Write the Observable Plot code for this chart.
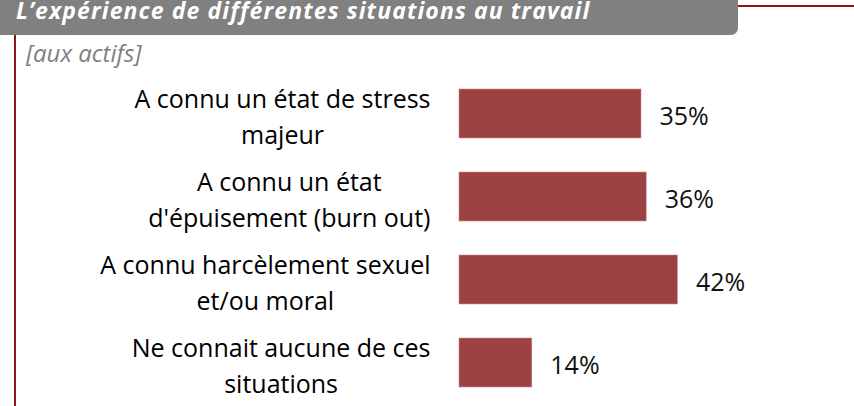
<!DOCTYPE html>
<html>
<head>
<meta charset="utf-8">
<script src="https://cdn.jsdelivr.net/npm/d3@7"></script>
<script src="https://cdn.jsdelivr.net/npm/@observablehq/plot@0.6"></script>
<style>
  html, body { margin: 0; padding: 0; background: #fff; }
  #wrap { position: relative; width: 854px; height: 406px; overflow: hidden; font-family: "Open Sans", sans-serif; }
  #titlebox { position: absolute; left: 0; top: -10px; width: 738px; height: 45px; background: #808080; border-bottom-right-radius: 7px; }
  #title { position: absolute; left: 16px; top: 1px; color: #fff; font: italic 700 23px "Open Sans", sans-serif; letter-spacing: 1.1px; white-space: nowrap; line-height: 18px; }
  #toprule { position: absolute; left: 738px; top: 5px; width: 116px; height: 2px; background: #9b0f0f; }
  #leftrule { position: absolute; left: 14px; top: 35px; width: 2px; height: 371px; background: #8b1414; }
  #subtitle { position: absolute; left: 26px; top: 38px; color: #7f7f7f; font: italic 400 24px "Open Sans", sans-serif; line-height: 30px; white-space: nowrap; }
  #chart { position: absolute; left: 0; top: 0; }
</style>
</head>
<body>
<div id="wrap">
  <div id="chart"></div>
  <div id="titlebox"></div>
  <div id="title">L’expérience de différentes situations au travail</div>
  <div id="toprule"></div>
  <div id="leftrule"></div>
  <div id="subtitle">[aux actifs]</div>
</div>
<script>
const categories = [
  "A connu un état de stress\nmajeur",
  "A connu un état\nd'épuisement (burn out)",
  "A connu harcèlement sexuel\net/ou moral",
  "Ne connait aucune de ces\nsituations"
];
const values = [35, 36, 42, 14];
const valueLabels = ["35%", "36%", "42%", "14%"];

const data = categories.map((c, i) => ({category: c, value: values[i], label: valueLabels[i]}));

const chart = Plot.plot({
  width: 854,
  height: 406,
  marginLeft: 459,
  marginRight: 135,
  marginTop: 71,
  marginBottom: 2,
  x: {domain: [0, 50], axis: null},
  y: {domain: categories, axis: null, paddingInner: 0.412, paddingOuter: 0.206},
  style: {fontFamily: "Open Sans, sans-serif", background: "transparent", overflow: "visible"},
  marks: [
    Plot.barX(data, {x: "value", y: "category", fill: "#9c4243", stroke: "#c98a8a", strokeWidth: 0.6}),
    Plot.text(data, {x: "value", y: "category", text: "label", textAnchor: "start", dx: 18, dy: 2.5, fontSize: 25, fill: "#111"}),
    Plot.text(data, {x: 0, y: "category", text: "category", textAnchor: "end", dx: -29, dy: 0, fontSize: 25, lineHeight: 1.44, fill: "#000", className: "catlabel"})
  ]
});
document.getElementById("chart").appendChild(chart);

// centre the wrapped lines of each category label within its right-aligned block
document.querySelectorAll(".catlabel text").forEach(t => {
  const w = t.getBBox().width;
  t.setAttribute("text-anchor", "middle");
  const tr = t.getAttribute("transform") || "";
  t.setAttribute("transform", tr + ` translate(${-w / 2},0)`);
});
</script>
</body>
</html>
